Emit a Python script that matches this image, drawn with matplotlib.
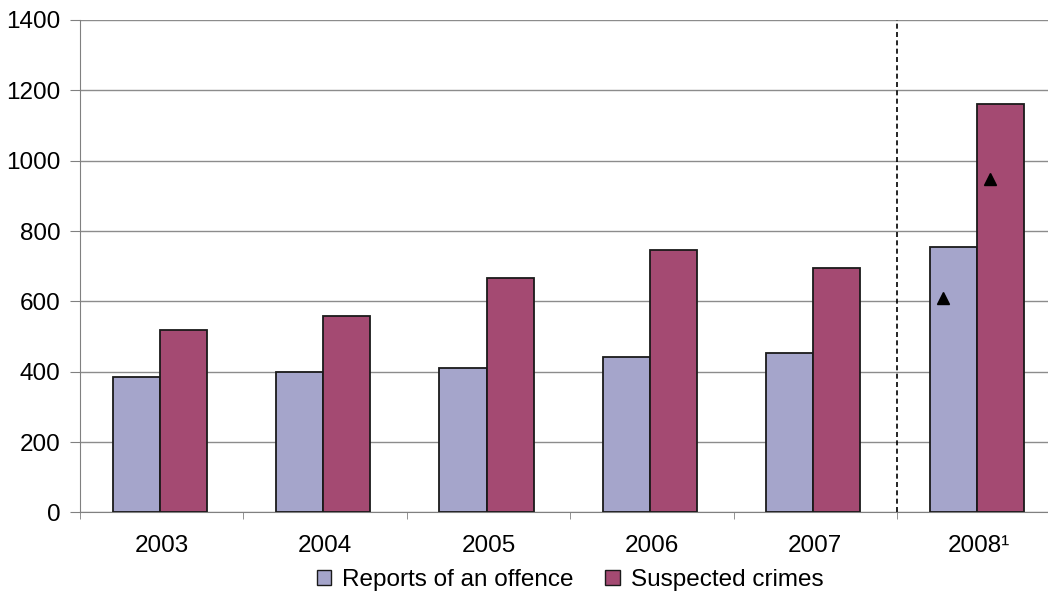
import numpy as np
import matplotlib.pyplot as plt
from matplotlib.patches import Patch

plt.rcParams['font.family'] = ['Liberation Sans', 'DejaVu Sans']

years = ['2003', '2004', '2005', '2006', '2007', '2008\u00b9']
reports = [385, 400, 411, 442, 453, 755]
suspected = [520, 558, 667, 746, 696, 1161]
# triangle markers drawn on the 2008 bars
marker_reports = 610
marker_suspected = 948

c_reports = '#a5a5cb'
c_suspected = '#a44a72'

fig = plt.figure(figsize=(10.48, 5.92), dpi=100)
ax = fig.add_axes([80 / 1048, 1 - 512.4 / 592, 1 - 80 / 1048, 492.4 / 592])

x = np.arange(len(years)) - 0.012
w = 0.288
ax.bar(x - w / 2, reports, w, color=c_reports, edgecolor='#1a1a1a', linewidth=1.3, zorder=3)
ax.bar(x + w / 2, suspected, w, color=c_suspected, edgecolor='#1a1a1a', linewidth=1.3, zorder=3)

last = len(years) - 1
ax.plot(x[last] - w / 2 - 0.065, marker_reports, marker='^', color='black', markersize=9, zorder=4)
ax.plot(x[last] + w / 2 - 0.06, marker_suspected, marker='^', color='black', markersize=9, zorder=4)

# break between final and provisional figures
ax.axvline(last - 0.5, color='black', linewidth=1.2, linestyle=(0, (3, 2)), zorder=2)

ax.set_ylim(0, 1400)
ax.set_xlim(-0.5, (1048 - 80) / 163.4 - 0.5)
ax.set_yticks(range(0, 1401, 200))
ax.yaxis.grid(True, color='#8c8c8c', linewidth=1, zorder=0)
ax.set_axisbelow(True)

ax.set_xticks(np.arange(len(years)))
ax.set_xticklabels(years)
ax.set_xticks(np.arange(-0.5, len(years) - 0.5, 1), minor=True)
ax.tick_params(axis='x', which='major', length=0, pad=16, labelsize=17.5)
ax.tick_params(axis='x', which='minor', length=5, color='#808080', direction='out')
ax.tick_params(axis='y', length=7, color='#808080', pad=7, labelsize=17.5)

for side in ['top', 'right']:
    ax.spines[side].set_visible(False)
ax.spines['left'].set_color('#808080')
ax.spines['bottom'].set_color('#808080')

handles = [Patch(facecolor=c_reports, edgecolor='#1a1a1a', label='Reports of an offence'),
           Patch(facecolor=c_suspected, edgecolor='#1a1a1a', label='Suspected crimes')]
fig.legend(handles=handles, loc='center', bbox_to_anchor=(570 / 1048, 12 / 592), ncol=2,
           frameon=False, fontsize=17.5, handlelength=0.6, handleheight=0.6,
           handletextpad=0.45, columnspacing=1.3)

fig.savefig('out.png', dpi=100)
